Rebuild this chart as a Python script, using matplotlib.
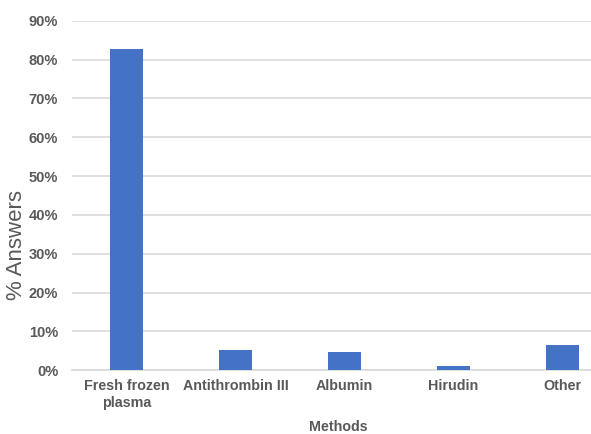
import matplotlib.pyplot as plt
from matplotlib.ticker import PercentFormatter

methods = ["Fresh frozen\nplasma", "Antithrombin III", "Albumin", "Hirudin", "Other"]
answers = [82.7, 5.1, 4.6, 1.0, 6.6]
y_ticks = list(range(0, 91, 10))

grey = "#595959"
fonts = ["Liberation Sans", "DejaVu Sans"]

fig = plt.figure(figsize=(5.91, 4.34), dpi=100)
ax = fig.add_axes([0.122, 0.147, 0.922, 0.805])

x = list(range(len(methods)))
ax.bar(x, answers, width=0.31, color="#4472C4", zorder=3)

ax.set_xlim(-0.5, len(methods) - 0.5)
ax.set_ylim(0, 90)
ax.set_yticks(y_ticks)
ax.yaxis.set_major_formatter(PercentFormatter(decimals=0))
ax.grid(axis="y", color="#d9d9d9", linewidth=1.2, zorder=0)

for side in ["top", "right", "left"]:
    ax.spines[side].set_visible(False)
ax.spines["bottom"].set_color("#d9d9d9")
ax.spines["bottom"].set_linewidth(1.2)

ax.set_xticks(x)
ax.set_xticklabels(methods, family=fonts, fontsize=10.3, fontweight="bold",
                   color=grey, linespacing=1.3)
ax.tick_params(axis="both", length=0)
ax.tick_params(axis="x", pad=6)
ax.tick_params(axis="y", pad=10)
for lbl in ax.get_yticklabels():
    lbl.set_family(fonts)
    lbl.set_fontsize(10.5)
    lbl.set_fontweight("bold")
    lbl.set_color(grey)

ax.set_ylabel("% Answers", family=fonts, fontsize=16, color=grey)
ax.yaxis.set_label_coords(-0.082, 0.358)
fig.text(338 / 591, 1 - 427 / 434, "Methods", family=fonts, fontsize=10.3,
         fontweight="bold", color=grey, ha="center", va="center")

fig.savefig("out.png", dpi=100)
